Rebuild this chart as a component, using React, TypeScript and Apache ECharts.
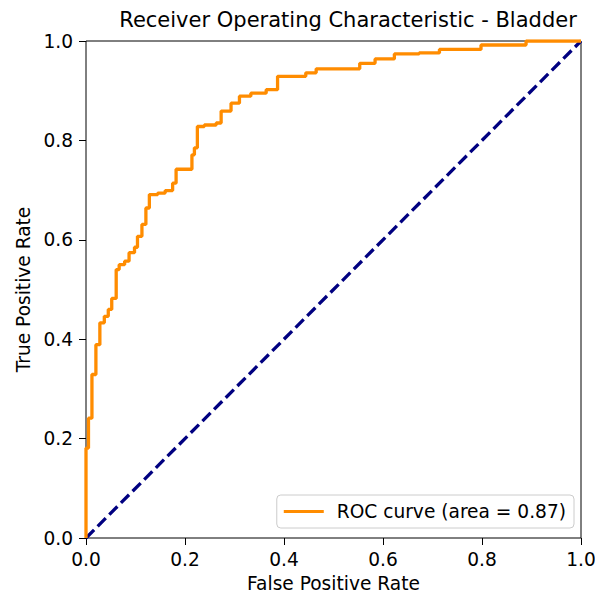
import React, { useEffect, useRef } from "react";
import * as echarts from "echarts";

const fpr = [
  0, 0, 0.005, 0.005, 0.012, 0.012, 0.02, 0.02, 0.028, 0.028, 0.037, 0.037, 0.045, 0.045,
  0.052, 0.052, 0.061, 0.061, 0.067, 0.067, 0.078, 0.078, 0.087, 0.087, 0.098, 0.098,
  0.104, 0.104, 0.113, 0.113, 0.121, 0.121, 0.128, 0.128, 0.145, 0.145, 0.16, 0.16,
  0.175, 0.175, 0.182, 0.182, 0.214, 0.214, 0.219, 0.219, 0.225, 0.225, 0.239, 0.239,
  0.263, 0.263, 0.273, 0.273, 0.293, 0.293, 0.31, 0.31, 0.333, 0.333, 0.364, 0.364,
  0.387, 0.387, 0.444, 0.444, 0.465, 0.465, 0.553, 0.553, 0.584, 0.584, 0.623, 0.623,
  0.673, 0.673, 0.714, 0.714, 0.798, 0.798, 0.889, 0.889, 1.0,
];
const tpr = [
  0, 0.181, 0.181, 0.241, 0.241, 0.329, 0.329, 0.389, 0.389, 0.433, 0.433, 0.446, 0.446, 0.46,
  0.46, 0.482, 0.482, 0.54, 0.54, 0.55, 0.55, 0.557, 0.557, 0.574, 0.574, 0.585,
  0.585, 0.607, 0.607, 0.631, 0.631, 0.664, 0.664, 0.691, 0.691, 0.694, 0.694, 0.699,
  0.699, 0.714, 0.714, 0.742, 0.742, 0.771, 0.771, 0.785, 0.785, 0.828, 0.828, 0.831,
  0.831, 0.835, 0.835, 0.859, 0.859, 0.875, 0.875, 0.889, 0.889, 0.895, 0.895, 0.902,
  0.902, 0.929, 0.929, 0.936, 0.936, 0.944, 0.944, 0.955, 0.955, 0.964, 0.964, 0.974,
  0.974, 0.976, 0.976, 0.983, 0.983, 0.992, 0.992, 1.0, 1.0,
];
const chanceX = [0, 1];
const chanceY = [0, 1];
const tickLabels = ["0.0", "0.2", "0.4", "0.6", "0.8", "1.0"];
const rocName = "ROC curve (area = 0.87)";
const titleText = "Receiver Operating Characteristic - Bladder";

const FONT = "DejaVu Sans";
const FS = 18.6;

export default function App() {
  const ref = useRef<HTMLDivElement>(null);
  useEffect(() => {
    if (!ref.current) return;
    const chart = echarts.init(ref.current, undefined, { renderer: "svg" });
    const fmt = (v: number) => tickLabels[Math.round(v * 5)] ?? v.toFixed(1);
    chart.setOption({
      animation: false,
      backgroundColor: "#fff",
      title: {
        text: titleText,
        left: 343,
        top: 4,
        textAlign: "center",
        textStyle: { fontFamily: FONT, fontSize: 21, fontWeight: "normal", color: "#000" },
      },
      grid: {
        left: 86,
        top: 41,
        width: 495,
        height: 497,
        show: true,
        borderColor: "#000",
        borderWidth: 1,
        backgroundColor: "transparent",
        containLabel: false,
        outerBoundsMode: "none",
      },
      legend: {
        right: 21,
        bottom: 68,
        data: [{ name: rocName, icon: "rect" }],
        itemWidth: 40,
        itemHeight: 3,
        padding: [7, 8, 7, 7],
        borderColor: "#cccccc",
        borderWidth: 1,
        borderRadius: 4,
        backgroundColor: "rgba(255,255,255,0.8)",
        textStyle: { fontFamily: FONT, fontSize: FS, color: "#000", padding: [0, 0, 0, 8] },
      },
      xAxis: {
        type: "value",
        min: 0,
        max: 1,
        interval: 0.2,
        name: "False Positive Rate",
        nameLocation: "middle",
        nameGap: 36,
        nameTextStyle: { fontFamily: FONT, fontSize: FS, color: "#000" },
        axisLine: { show: false },
        axisTick: { show: true, length: 7, lineStyle: { color: "#000", width: 1 } },
        axisLabel: {
          margin: 12,
          fontFamily: FONT,
          fontSize: FS,
          color: "#000",
          formatter: fmt,
        },
        splitLine: { show: false },
      },
      yAxis: {
        type: "value",
        min: 0,
        max: 1,
        interval: 0.2,
        name: "True Positive Rate",
        nameLocation: "middle",
        nameGap: 52,
        nameTextStyle: { fontFamily: FONT, fontSize: FS, color: "#000" },
        axisLine: { show: false },
        axisTick: { show: true, length: 7, lineStyle: { color: "#000", width: 1 } },
        axisLabel: {
          margin: 13,
          fontFamily: FONT,
          fontSize: FS,
          color: "#000",
          formatter: fmt,
        },
        splitLine: { show: false },
      },
      series: [
        {
          name: rocName,
          type: "line",
          data: fpr.map((x, i) => [x, tpr[i]]),
          showSymbol: false,
          symbol: "none",
          lineStyle: { color: "#ff8c00", width: 3.3 },
          itemStyle: { color: "#ff8c00" },
          z: 3,
        },
        {
          name: "chance",
          type: "line",
          data: chanceX.map((x, i) => [x, chanceY[i]]),
          showSymbol: false,
          symbol: "none",
          lineStyle: { color: "#000080", width: 3.3, type: [11.5, 5] },
          itemStyle: { color: "#000080" },
          z: 2,
        },
      ],
    });
    return () => chart.dispose();
  }, []);
  return (
    <div
      ref={ref}
      style={{ position: "fixed", left: 0, top: 0, width: 595, height: 596, background: "#fff" }}
    />
  );
}
